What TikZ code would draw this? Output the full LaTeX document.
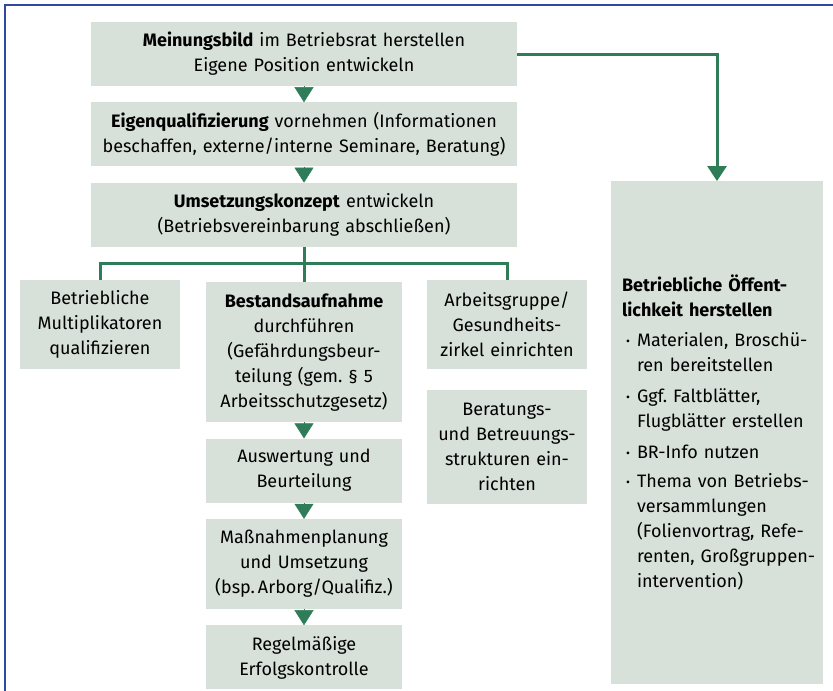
\documentclass[tikz,border=0pt]{standalone}
\usepackage{fontspec}
\setmainfont{Fira Sans}
\usetikzlibrary{arrows.meta,positioning}
\definecolor{boxfill}{RGB}{215,224,217}
\definecolor{pfeil}{RGB}{46,125,88}
\definecolor{rahmen}{RGB}{48,72,160}
\frenchspacing
\newcommand{\bul}{\hspace*{4pt}\makebox[11pt][l]{\raisebox{1.5pt}{\fontsize{12}{12}\selectfont\textbullet}}}
\newcommand{\cont}[1]{\mbox{\hspace*{15pt}#1}}
\tikzset{
    %Define style for boxes
    stage/.style={
           rectangle,
           fill=boxfill,
           inner sep=0pt,
           font=\fontsize{18}{25}\selectfont,
           align=center},
    wide/.style={stage, text width=426pt, minimum height=64pt},
    column/.style={stage, text width=196pt},
    side/.style={stage, text width=160pt, minimum height=89pt},
    % Define arrow styles
    pil/.style={
           -{Triangle[length=15pt,width=19pt]},
           draw=pfeil,
           line width=3pt},
    tri/.style={
           -{Triangle[length=15pt,width=19pt]},
           draw=pfeil, fill=pfeil,
           line width=0.4pt},
    conn/.style={draw=pfeil, line width=3pt}
}
\begin{document}
\begin{tikzpicture}[x=1pt,y=-1pt,node distance=16pt]
\useasboundingbox (0,0) rectangle (833,691);
\draw[rahmen, line width=2pt] (5,691) -- (5,5) -- (833,5);
% top chain
\node[wide] (meinung) at (304,54) {\textbf{Meinungsbild} im Betriebsrat herstellen\\Eigene Position entwickeln};
\node[wide, below=of meinung] (eigenq) {\textbf{Eigenqualifizierung} vornehmen (Informationen\\beschaffen, externe/interne Seminare, Beratung)};
\node[wide, below=of eigenq] (umsetz) {\textbf{Umsetzungskonzept} entwickeln\\(Betriebsvereinbarung abschließen)};
% middle column
\node[column, minimum height=140pt, below=35pt of umsetz] (bestand) {\textbf{Bestandsaufnahme}\\durchführen\\(Gefährdungsbeur-\\teilung (gem. § 5\\Arbeitsschutzgesetz)};
\node[column, minimum height=64pt, below=of bestand] (auswert) {Auswertung und\\Beurteilung};
\node[column, minimum height=90pt, below=of auswert] (massn) {Maßnahmenplanung\\und Umsetzung\\(bsp.\,Arborg/Qualifiz.)};
\node[column, minimum height=64pt, below=of massn] (regel) {Regelmäßige\\Erfolgskontrolle};
% side boxes
\node[side, anchor=north] (multi) at (100,280) {Betriebliche\\Multiplikatoren\\qualifizieren};
\node[side, anchor=north] (arbeit) at (507,280) {Arbeitsgruppe/\\Gesundheits-\\zirkel einrichten};
\node[side, minimum height=114pt, below=20pt of arbeit] (berat) {Beratungs-\\und Betreuungs-\\strukturen ein-\\richten};
% right panel
\node[stage, anchor=north, text width=190pt, minimum width=212pt, minimum height=503pt, align=left] (oeff) at (717,181)
  {\textbf{Betriebliche Öffent-}\\\textbf{lichkeit herstellen}\\[5pt]
   \mbox{\bul Materialen, Broschü-}\\\cont{ren bereitstellen}\\[6pt]
   \mbox{\bul Ggf. Faltblätter,}\\\cont{Flugblätter erstellen}\\[6pt]
   \mbox{\bul BR-Info nutzen}\\[4pt]
   \mbox{\bul Thema von Betriebs-}\\\cont{versammlungen}\\\cont{(Folienvortrag, Refe-}\\\cont{renten, Großgruppen-}\\\cont{intervention)}};
% connectors
\draw[tri] (meinung) -- (eigenq);
\draw[tri] (eigenq) -- (umsetz);
\draw[tri] (bestand) -- (auswert);
\draw[tri] (auswert) -- (massn);
\draw[tri] (massn) -- (regel);
\draw[pil] (meinung.east) -| (oeff.north);
\draw[conn] (umsetz.south) -- (bestand.north);
\draw[conn] (multi.north) -- ++(0,-17) -| (arbeit.north);
\end{tikzpicture}
\end{document}
